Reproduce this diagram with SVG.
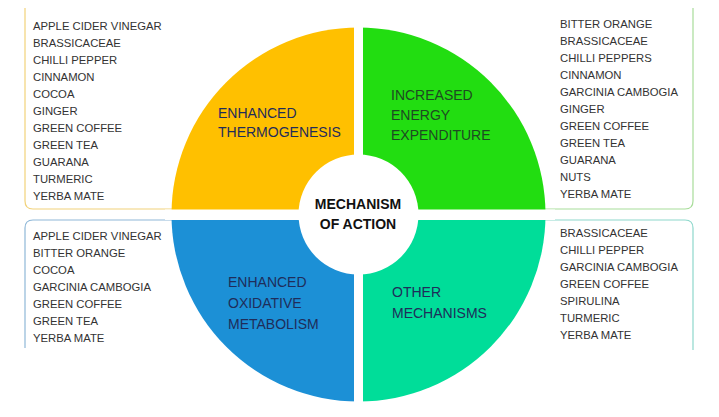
<svg xmlns="http://www.w3.org/2000/svg" width="719" height="417" viewBox="0 0 719 417">
<style>
.l{font-family:"Liberation Sans",Arial,sans-serif;font-size:11.3px;fill:#333}
.q{font-family:"Liberation Sans",Arial,sans-serif;font-size:14px}
.c{font-family:"Liberation Sans",Arial,sans-serif;font-size:14px;font-weight:bold;fill:#111;text-anchor:middle}
.b{fill:none;stroke-width:1.2}
</style>
<rect width="719" height="417" fill="#fff"/>
<g id="boxes">
<path class="b" stroke="#F2D27A" d="M25,8 V201 Q25,209 33,209 H250"/>
<path class="b" stroke="#A8DD9A" d="M693,8 V201 Q693,209 685,209 H470"/>
<path class="b" stroke="#8FB8D8" d="M250,220 H33 Q25,220 25,228 V348"/>
<path class="b" stroke="#8ED8CC" d="M470,220 H685 Q693,220 693,228 V350"/>
</g>
<g id="ring">
<path d="M358.5,214.5 V27.5 A187,187 0 0 0 171.5,214.5 Z" fill="#FFC000"/>
<path d="M358.5,214.5 V27.5 A187,187 0 0 1 545.5,214.5 Z" fill="#22DD11"/>
<path d="M358.5,214.5 H171.5 A187,187 0 0 0 358.5,401.5 Z" fill="#1C90D6"/>
<path d="M358.5,214.5 H545.5 A187,187 0 0 1 358.5,401.5 Z" fill="#00DD99"/>
<rect x="354" y="20" width="9" height="390" fill="#fff"/>
<rect x="165" y="209.5" width="390" height="10.5" fill="#fff"/>
<circle cx="358.5" cy="214.5" r="60" fill="#fff"/>
</g>
<g id="center"><text class="c" x="358" y="209">MECHANISM</text><text class="c" x="358" y="229">OF ACTION</text></g>
<g id="q1" class="q" fill="#1F2D5A"><text class="q" x="218" y="118">ENHANCED</text><text class="q" x="218" y="137">THERMOGENESIS</text></g>
<g id="q2" fill="#1E4A22"><text class="q" x="391" y="100">INCREASED</text><text class="q" x="391" y="120">ENERGY</text><text class="q" x="391" y="140">EXPENDITURE</text></g>
<g id="q3" fill="#1F2D5A"><text class="q" x="228" y="287">ENHANCED</text><text class="q" x="228" y="308">OXIDATIVE</text><text class="q" x="228" y="329">METABOLISM</text></g>
<g id="q4" fill="#1F2D5A"><text class="q" x="392" y="297">OTHER</text><text class="q" x="392" y="318">MECHANISMS</text></g>
<g id="list1" class="l">
<text class="l" x="33" y="30">APPLE CIDER VINEGAR</text><text class="l" x="33" y="47">BRASSICACEAE</text><text class="l" x="33" y="64">CHILLI PEPPER</text><text class="l" x="33" y="81">CINNAMON</text><text class="l" x="33" y="98">COCOA</text><text class="l" x="33" y="115">GINGER</text><text class="l" x="33" y="132">GREEN COFFEE</text><text class="l" x="33" y="149">GREEN TEA</text><text class="l" x="33" y="166">GUARANA</text><text class="l" x="33" y="183">TURMERIC</text><text class="l" x="33" y="200">YERBA MATE</text>
</g>
<g id="list2">
<text class="l" x="560" y="28">BITTER ORANGE</text><text class="l" x="560" y="45">BRASSICACEAE</text><text class="l" x="560" y="62">CHILLI PEPPERS</text><text class="l" x="560" y="79">CINNAMON</text><text class="l" x="560" y="96">GARCINIA CAMBOGIA</text><text class="l" x="560" y="113">GINGER</text><text class="l" x="560" y="130">GREEN COFFEE</text><text class="l" x="560" y="147">GREEN TEA</text><text class="l" x="560" y="164">GUARANA</text><text class="l" x="560" y="181">NUTS</text><text class="l" x="560" y="198">YERBA MATE</text>
</g>
<g id="list3">
<text class="l" x="33" y="240">APPLE CIDER VINEGAR</text><text class="l" x="33" y="257">BITTER ORANGE</text><text class="l" x="33" y="274">COCOA</text><text class="l" x="33" y="291">GARCINIA CAMBOGIA</text><text class="l" x="33" y="308">GREEN COFFEE</text><text class="l" x="33" y="325">GREEN TEA</text><text class="l" x="33" y="342">YERBA MATE</text>
</g>
<g id="list4">
<text class="l" x="560" y="237">BRASSICACEAE</text><text class="l" x="560" y="254">CHILLI PEPPER</text><text class="l" x="560" y="271">GARCINIA CAMBOGIA</text><text class="l" x="560" y="288">GREEN COFFEE</text><text class="l" x="560" y="305">SPIRULINA</text><text class="l" x="560" y="322">TURMERIC</text><text class="l" x="560" y="339">YERBA MATE</text>
</g>
</svg>
